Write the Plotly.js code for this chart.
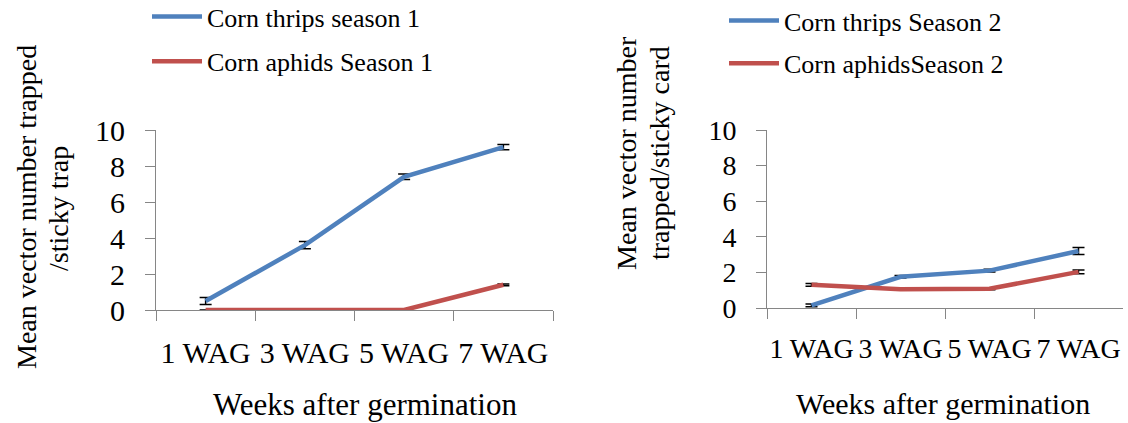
<!DOCTYPE html>
<html>
<head>
<meta charset="utf-8">
<script src="https://cdn.plot.ly/plotly-3.0.1.min.js"></script>
<style>html,body{margin:0;padding:0;background:#fff}#chart{width:1128px;height:423px}</style>
</head>
<body>
<div id="chart"></div>
<script>
const weeks = ["1 WAG", "3 WAG", "5 WAG", "7 WAG"];
const thripsS1 = [0.5, 3.6, 7.4, 9.05];
const thripsS1Err = [0.2, 0.2, 0.15, 0.15];
const aphidsS1 = [0, 0, 0, 1.4];
const aphidsS1Err = [0, 0, 0, 0.05];
const thripsS2 = [0.15, 1.75, 2.1, 3.2];
const thripsS2Err = [0.08, 0.07, 0.08, 0.2];
const aphidsS2 = [1.3, 1.05, 1.08, 2.03];
const aphidsS2Err = [0.08, 0.05, 0.06, 0.1];

const BLUE = "#4F81BD", RED = "#C0504D";
const FONT = "Liberation Serif";

function tr(name, y, err, color, xa, ya, legend, group) {
  return {
    type: "scatter", mode: "lines", name: name, x: weeks, y: y,
    xaxis: xa, yaxis: ya, legend: legend, legendgroup: group,
    line: {color: color, width: 4.5},
    error_y: {type: "data", array: err, visible: true, color: "#000", thickness: 1.5, width: 6}
  };
}

const data = [
  tr("Corn thrips season 1", thripsS1, thripsS1Err, BLUE, "x", "y", "legend", "a"),
  tr("Corn aphids Season 1", aphidsS1, aphidsS1Err, RED, "x", "y", "legend", "b"),
  tr("Corn thrips Season 2", thripsS2, thripsS2Err, BLUE, "x2", "y2", "legend2", "c"),
  tr("Corn aphidsSeason 2", aphidsS2, aphidsS2Err, RED, "x2", "y2", "legend2", "d")
];

function axisBase(size) {
  return {
    showgrid: false, zeroline: false, showline: true, linecolor: "#868686", linewidth: 1,
    ticks: "outside", tickcolor: "#868686", tickwidth: 1, ticklen: 10,
    tickfont: {family: FONT, size: size, color: "#000"}
  };
}
function xAxis(size, standoff) {
  return Object.assign(axisBase(size), {
    type: "category", tickson: "boundaries", tickangle: 0, ticklabelstandoff: standoff,
    range: [-0.5, 3.5]
  });
}
function yAxis(size) {
  return Object.assign(axisBase(size), {range: [0, 10], dtick: 2, tick0: 0, ticklabelstandoff: 14});
}

function ann(text, x, y, angle, size) {
  return {text: text, textangle: angle, xref: "paper", yref: "paper", x: x / 1128, y: 1 - y / 423,
          xanchor: "center", yanchor: "middle", showarrow: false,
          font: {family: FONT, size: size, color: "#000"}};
}

const layout = {
  width: 1128, height: 423,
  margin: {l: 0, r: 0, t: 0, b: 0, autoexpand: false},
  paper_bgcolor: "#fff", plot_bgcolor: "#fff",
  font: {family: FONT, color: "#000"},
  xaxis: Object.assign(xAxis(30, 16), {domain: [156/1128, 553/1128], anchor: "y"}),
  yaxis: Object.assign(yAxis(30), {domain: [1 - 310/423, 1 - 130/423], anchor: "x"}),
  xaxis2: Object.assign(xAxis(28, 15), {domain: [767/1128, 1123/1128], anchor: "y2"}),
  yaxis2: Object.assign(yAxis(28), {domain: [1 - 308/423, 1 - 130/423], anchor: "x2"}),
  showlegend: true,
  legend: {x: 147/1128, y: 1 + 7/423, xanchor: "left", yanchor: "top", bgcolor: "rgba(0,0,0,0)",
           font: {family: FONT, size: 26, color: "#000"}, traceorder: "grouped", tracegroupgap: 8, itemwidth: 50},
  legend2: {x: 724/1128, y: 1 + 3/423, xanchor: "left", yanchor: "top", bgcolor: "rgba(0,0,0,0)",
           font: {family: FONT, size: 26, color: "#000"}, traceorder: "grouped", tracegroupgap: 6, itemwidth: 50},
  annotations: [
    ann("Mean vector number trapped", 27, 207, -90, 28),
    ann("/sticky trap", 59, 209, -90, 28),
    ann("Mean vector number", 626, 153, -90, 28),
    ann("trapped/sticky card", 659, 153, -90, 28),
    ann("Weeks after germination", 365, 404, 0, 31),
    ann("Weeks after germination", 943, 403, 0, 30)
  ]
};

Plotly.newPlot("chart", data, layout, {displayModeBar: false, staticPlot: true});
</script>
</body>
</html>
